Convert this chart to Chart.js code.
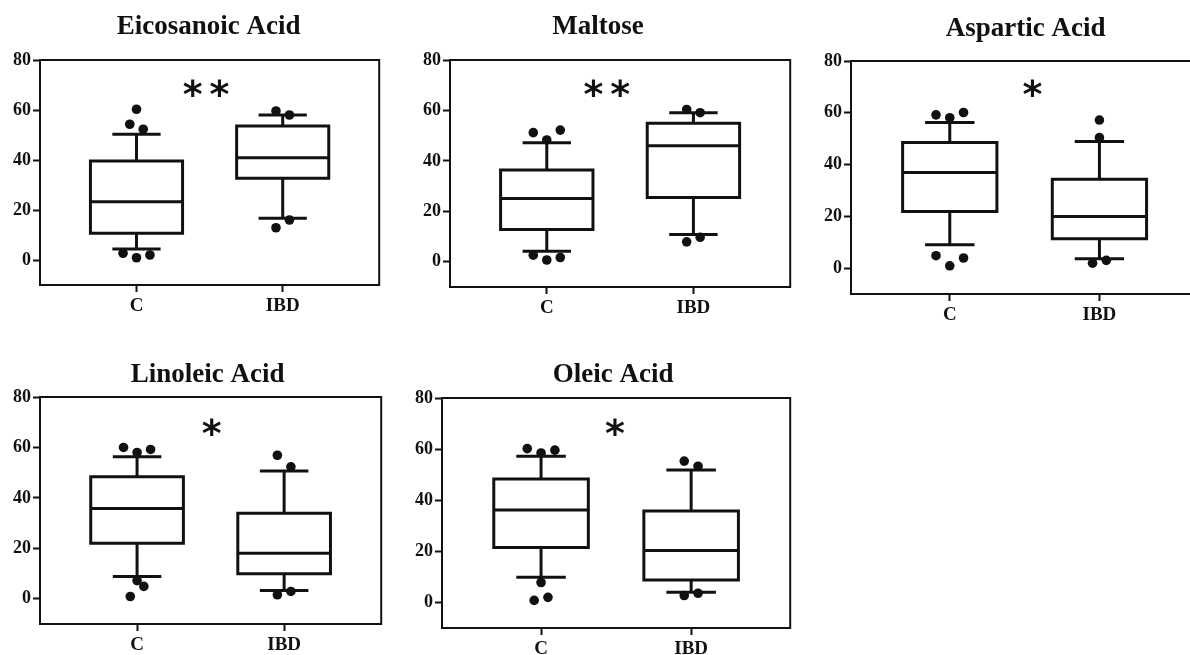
<!DOCTYPE html>
<html>
<head>
<meta charset="utf-8">
<script src="https://cdn.jsdelivr.net/npm/chart.js@4.4.1/dist/chart.umd.min.js"></script>
<style>
  body { margin: 0; background: #fff; width: 1190px; height: 655px; overflow: hidden; position: relative; }
  .panel { position: absolute; }
</style>
</head>
<body>
<div class="panel" id="panel0"><canvas></canvas></div>
<div class="panel" id="panel1"><canvas></canvas></div>
<div class="panel" id="panel2"><canvas></canvas></div>
<div class="panel" id="panel3"><canvas></canvas></div>
<div class="panel" id="panel4"><canvas></canvas></div>
<script>
// ---- Data: one entry per metabolite, each holding [C, IBD] ----
const groups = ['C', 'IBD'];
const yTicks = [0, 20, 40, 60, 80];
const titles = ['Eicosanoic Acid', 'Maltose', 'Aspartic Acid', 'Linoleic Acid', 'Oleic Acid'];
const marks = ['**', '**', '*', '*', '*'];

const whiskerLow = [[4.4, 16.7], [4.2, 10.8], [9.0, 3.6], [8.8, 3.3], [9.9, 4.0]];
const q1 = [[10.7, 32.7], [12.8, 25.5], [21.9, 11.3], [22.0, 9.9], [21.5, 8.8]];
const medians = [[23.3, 40.9], [25.1, 46.0], [36.9, 19.9], [35.8, 18.1], [36.2, 20.3]];
const q3 = [[39.6, 53.6], [36.4, 54.9], [48.5, 34.3], [48.4, 33.9], [48.3, 35.8]];
const whiskerHigh = [[50.3, 58.0], [47.2, 59.1], [56.2, 48.9], [56.3, 50.7], [57.2, 51.8]];

const outliers = [
  [[60.3, 54.3, 52.3, 2.7, 0.9, 2.0], [59.6, 58.0, 16.0, 12.9]],
  [[51.2, 52.2, 48.3, 2.6, 0.7, 1.7], [60.4, 59.1, 7.9, 9.7]],
  [[59.2, 58.1, 60.1, 4.8, 0.9, 3.9], [57.2, 50.4, 1.9, 3.0]],
  [[60.0, 58.0, 59.2, 7.2, 4.9, 0.9], [56.9, 52.3, 1.6, 2.9]],
  [[60.2, 58.5, 59.6, 7.8, 0.8, 2.0], [55.3, 53.3, 2.7, 3.6]],
];

// ---- Layout / style ----
// side-by-side lanes so overlapping outlier dots stay visible
const dotLanes = [
  [[0, -1, 1, -2, 0, 2], [-1, 1, 1, -1]],
  [[-2, 2, 0, -2, 0, 2], [-1, 1, -1, 1]],
  [[-2, 0, 2, -2, 0, 2], [0, 0, -1, 1]],
  [[-2, 0, 2, 0, 1, -1], [-1, 1, -1, 1]],
  [[-2, 0, 2, 0, -1, 1], [-1, 1, -1, 1]],
];
// plot frames in page pixels: [left, top, right, bottom]
const frames = [
  [40, 60, 380, 285],
  [450, 60, 791, 287],
  [851, 61, 1199, 294],
  [40, 397, 382, 624],
  [442, 398, 791, 628],
];
const titleShift = [-1, -22, 1, -3, -3];
const titleGap = [33, 33, 32, 22, 23];
const starX = [0.476, 0.41, 0.553, 0.507, 0.493];
const starY = [69, 69, 69.6, 68, 68.7];

const INK = '#111';
const Y_AXIS_W = 40;
const X_AXIS_H = 32;
const PAD_TOP = 50;
const PAD_RIGHT = 4;
const BOX_HALF = 0.315;
const CAP_HALF = 0.165;
const LANE = 0.046;
const SERIF = "'Liberation Serif', 'Times New Roman', serif";

Chart.defaults.font.family = SERIF;
Chart.defaults.color = INK;

function line(points, width) {
  return {
    type: 'scatter',
    data: points,
    showLine: true,
    borderColor: INK,
    borderWidth: width,
    borderJoinStyle: 'miter',
    borderCapStyle: 'butt',
    pointRadius: 0,
    fill: false,
    tension: 0,
  };
}

function panelDatasets(p) {
  const ds = [];
  groups.forEach((g, gi) => {
    const l = gi - BOX_HALF;
    const r = gi + BOX_HALF;
    const lo = q1[p][gi];
    const hi = q3[p][gi];
    const md = medians[p][gi];
    const wl = whiskerLow[p][gi];
    const wh = whiskerHigh[p][gi];

    // box outline (last edge repeated so the start corner gets a miter join)
    ds.push(line([
      { x: l, y: lo }, { x: r, y: lo }, { x: r, y: hi },
      { x: l, y: hi }, { x: l, y: lo }, { x: r, y: lo },
    ], 3));
    ds.push(line([{ x: l, y: md }, { x: r, y: md }], 3));
    // whiskers + caps
    ds.push(line([{ x: gi, y: hi }, { x: gi, y: wh }], 3));
    ds.push(line([{ x: gi - CAP_HALF, y: wh }, { x: gi + CAP_HALF, y: wh }], 3));
    ds.push(line([{ x: gi, y: lo }, { x: gi, y: wl }], 3));
    ds.push(line([{ x: gi - CAP_HALF, y: wl }, { x: gi + CAP_HALF, y: wl }], 3));

    ds.push({
      type: 'scatter',
      data: outliers[p][gi].map((v, k) => ({ x: gi + dotLanes[p][gi][k] * LANE, y: v })),
      pointRadius: 4.8,
      pointBackgroundColor: INK,
      pointBorderWidth: 0,
    });
  });
  return ds;
}

// frame on all four sides, title above and significance stars inside
const panelDecor = {
  id: 'panelDecor',
  beforeDatasetsDraw(chart, args, opts) {
    const { ctx, chartArea: a } = chart;
    ctx.save();
    ctx.strokeStyle = INK;
    ctx.lineWidth = 2;
    ctx.strokeRect(a.left, a.top, a.right - a.left, a.bottom - a.top);
    ctx.restore();
  },
  afterDraw(chart, args, opts) {
    const { ctx, chartArea: a, scales } = chart;
    ctx.save();
    ctx.fillStyle = INK;

    ctx.font = `bold 27px ${SERIF}`;
    ctx.textAlign = 'center';
    ctx.textBaseline = 'middle';
    ctx.fillText(opts.title, (a.left + a.right) / 2 + opts.dx, a.top - opts.gap);

    ctx.font = "bold 38px 'DejaVu Sans', sans-serif";
    ctx.letterSpacing = '7px';
    ctx.textAlign = 'left';
    ctx.textBaseline = 'alphabetic';
    const m = ctx.measureText(opts.mark);
    const cx = scales.x.getPixelForValue(opts.markX);
    const cy = scales.y.getPixelForValue(opts.markY);
    const w = m.actualBoundingBoxRight + m.actualBoundingBoxLeft;
    ctx.fillText(opts.mark, cx - w / 2 + m.actualBoundingBoxLeft,
      cy + (m.actualBoundingBoxAscent - m.actualBoundingBoxDescent) / 2);
    ctx.restore();
  },
};

function buildPanel(p) {
  const [L, T, R, B] = frames[p];
  const box = document.getElementById('panel' + p);
  box.style.left = (L - Y_AXIS_W) + 'px';
  box.style.top = (T - PAD_TOP) + 'px';
  box.style.width = (R - L + Y_AXIS_W + PAD_RIGHT) + 'px';
  box.style.height = (B - T + PAD_TOP + X_AXIS_H) + 'px';

  new Chart(box.querySelector('canvas').getContext('2d'), {
    type: 'scatter',
    data: { datasets: panelDatasets(p) },
    plugins: [panelDecor],
    options: {
      responsive: true,
      maintainAspectRatio: false,
      animation: false,
      events: [],
      layout: { padding: { top: PAD_TOP, right: PAD_RIGHT, left: 0, bottom: 0 } },
      plugins: {
        legend: { display: false },
        tooltip: { enabled: false },
        panelDecor: {
          title: titles[p],
          dx: titleShift[p],
          gap: titleGap[p],
          mark: marks[p],
          markX: starX[p],
          markY: starY[p],
        },
      },
      scales: {
        x: {
          type: 'linear',
          min: -0.66,
          max: 1.66,
          afterBuildTicks: (scale) => { scale.ticks = groups.map((g, i) => ({ value: i })); },
          afterFit: (scale) => { scale.height = X_AXIS_H; },
          border: { display: false },
          grid: { drawOnChartArea: false, drawTicks: true, tickLength: 7, tickWidth: 2, tickColor: INK },
          ticks: {
            callback: (v) => groups[v],
            font: { size: 19, weight: 'bold' },
            color: INK,
            padding: 3,
            maxRotation: 0,
          },
        },
        y: {
          min: -10,
          max: 80,
          afterBuildTicks: (scale) => { scale.ticks = yTicks.map((v) => ({ value: v })); },
          afterFit: (scale) => { scale.width = Y_AXIS_W; },
          border: { display: false },
          grid: { drawOnChartArea: false, drawTicks: true, tickLength: 7, tickWidth: 2, tickColor: INK },
          ticks: {
            font: { size: 18, weight: 'bold' },
            color: INK,
            padding: 2,
          },
        },
      },
    },
  });
}

document.addEventListener('DOMContentLoaded', () => {
  titles.forEach((t, p) => buildPanel(p));
});
</script>
</body>
</html>
